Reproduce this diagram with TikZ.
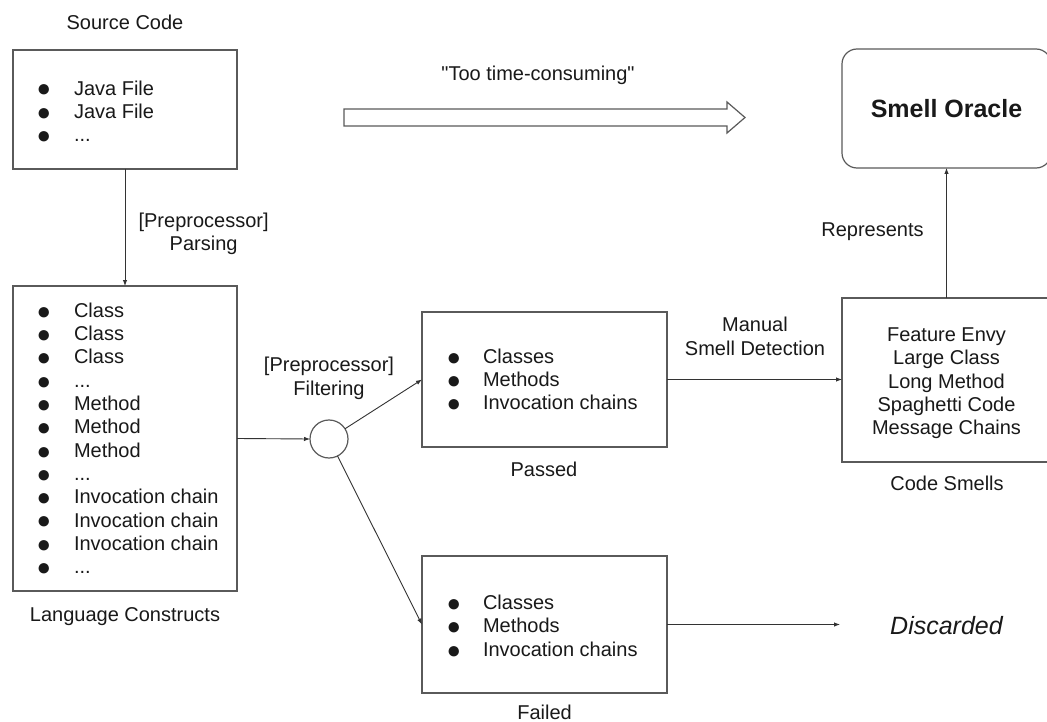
\documentclass[tikz,border=0pt]{standalone}
\usepackage{graphicx}
\usepackage{fontspec}
\setmainfont{Liberation Sans}
% same face without TeX quote ligatures, for straight quotes
\newfontfamily\rawsans{Liberation Sans}[Ligatures=ResetAll]
\usetikzlibrary{arrows.meta}

% centred multi-line label
\newcommand\stk[1]{\begin{tabular}{@{}c@{}}#1\end{tabular}}
% bulleted list: #1 = indent of the item text, #2 = rows "\bi Item\\"
\newcommand\blist[2]{\begin{tabular}{@{}p{#1}@{}l@{}}#2\end{tabular}}
\newcommand\bi{\raisebox{-1.9pt}{\scalebox{1.2}{●}} &}

\definecolor{boxline}{HTML}{5A5A5A}
\definecolor{wire}{HTML}{333333}

\begin{document}
\begin{tikzpicture}[x=1pt,y=-1pt,
  every node/.style={inner sep=0pt, outer sep=0pt, font=\fontsize{20}{23.3}\selectfont, text=black!90},
  box/.style={draw=boxline, line width=1.2pt, rectangle},
  listtext/.style={anchor=north west},
  caption/.style={anchor=base},
  link/.style={draw=wire, line width=0.9pt, -{Latex[length=6pt,width=4.5pt]}},
]
\useasboundingbox[fill=white] (0,0) rectangle (1047,722);

% ---- source code ----
\node[caption] (srccap) at (125,30) {Source Code};
\node[box, minimum width=224pt, minimum height=119pt] (src) at (125,109.5) {};
\node[listtext] (srclist) at (36.5,78.7) {\blist{37.5pt}{\bi Java File\\ \bi Java File\\ \bi ...\\}};

% ---- language constructs ----
\node[box, minimum width=224pt, minimum height=305pt] (lc) at (125,438.5) {};
\node[listtext] (lclist) at (36.5,301) {\blist{37.5pt}{%
  \bi Class\\ \bi Class\\ \bi Class\\ \bi ...\\
  \bi Method\\ \bi Method\\ \bi Method\\ \bi ...\\
  \bi Invocation chain\\ \bi Invocation chain\\ \bi Invocation chain\\ \bi ...\\}};
\node[caption] (lccap) at (125,621.7) {Language Constructs};

% ---- filter ----
\node[draw=boxline, line width=1.2pt, circle, minimum size=38pt] (flt) at (329,439) {};
\node[anchor=north] (fltlab) at (329,355.4) {\stk{[Preprocessor]\\Filtering}};

% ---- passed ----
\node[box, minimum width=245pt, minimum height=135pt] (pass) at (544.5,379.5) {};
\node[listtext] (passlist) at (446.5,347) {\blist{36.5pt}{\bi Classes\\ \bi Methods\\ \bi Invocation chains\\}};
\node[caption] (passcap) at (544,476.7) {Passed};

% ---- failed ----
\node[box, minimum width=245pt, minimum height=137pt] (fail) at (544.5,624.5) {};
\node[listtext] (faillist) at (446.5,593.2) {\blist{36.5pt}{\bi Classes\\ \bi Methods\\ \bi Invocation chains\\}};
\node[caption] (failcap) at (544.6,719.5) {Failed};

% ---- discarded ----
\node[caption, font=\fontsize{25}{30}\selectfont\itshape] (disc) at (946.5,634) {Discarded};
\coordinate (discend) at (840,624.5);

% ---- code smells ----
\node[box, minimum width=209pt, minimum height=164pt] (cs) at (946.5,380) {};
\node[anchor=north] (cstext) at (946.5,325.2) {\stk{Feature Envy\\Large Class\\Long Method\\Spaghetti Code\\Message Chains}};
\node[caption] (cscap) at (947,490) {Code Smells};
\node[anchor=north] (mandet) at (755,315.4) {\stk{Manual\\Smell Detection}};

% ---- smell oracle ----
\node[box, rounded corners=15pt, minimum width=209pt, minimum height=119pt,
      font=\fontsize{25}{30}\selectfont\bfseries] (oracle) at (946.5,108.5) {Smell Oracle};
\node[caption] (reprlab) at (872.5,236.7) {Represents};

% ---- shortcut ----
\node[caption, font=\fontsize{20}{23.3}\rawsans] (toolab) at (538,80.7) {"Too time-consuming"};
\draw[draw=boxline, line width=1.2pt, fill=white]
  (344,109) -- (727,109) -- (727,102) -- (745,117.5) -- (727,133) -- (727,126) -- (344,126) -- cycle;

% ---- connectors ----
\node[anchor=north] (parselab) at (203.6,210.7) {\stk{[Preprocessor]\\Parsing}};
\draw[link] (src.south) -- (lc.north);
\draw[link] (lc.east) -- (flt.west);
\draw[link] (flt) -- (pass.west);
\draw[link] (flt) -- (fail.west);
\draw[link] (pass.east) -- (cs.west |- pass.east);
\draw[link] (fail.east) -- (discend);
\draw[link] (cs.north) -- (cs.north |- oracle.south);
\end{tikzpicture}
\end{document}
